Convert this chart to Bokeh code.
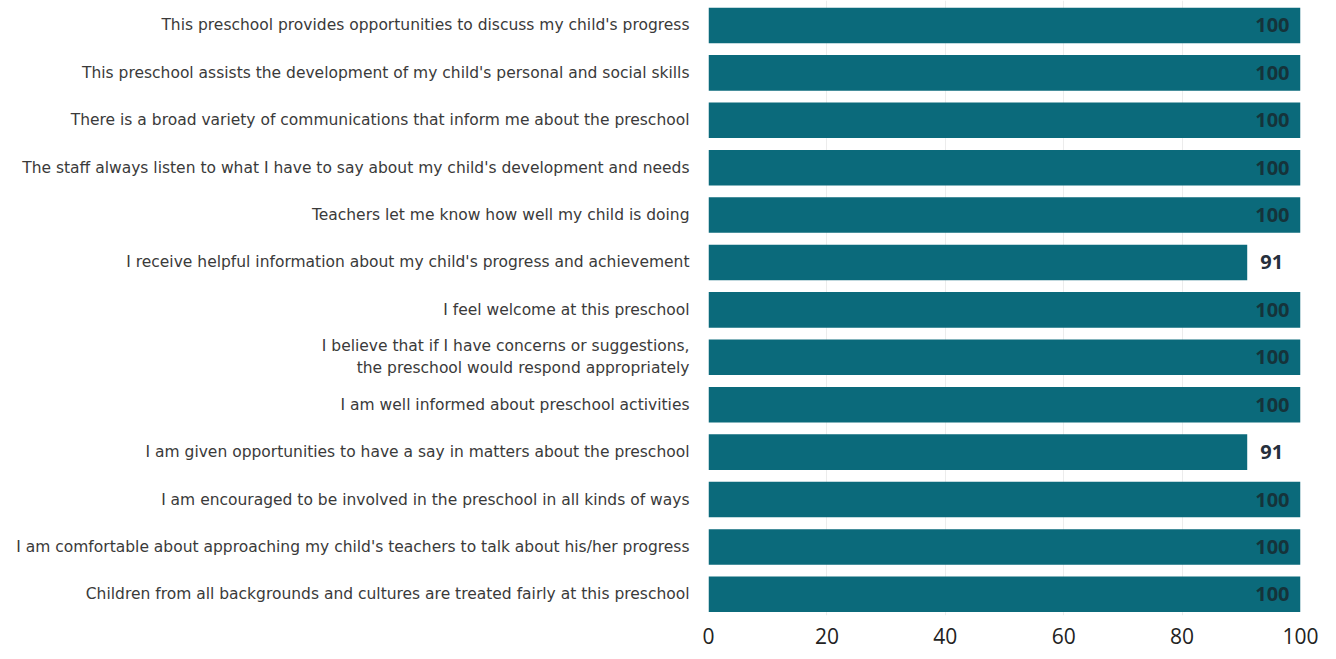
from bokeh.plotting import figure
from bokeh.models import ColumnDataSource, Range1d, FixedTicker
from bokeh.embed import file_html
from bokeh.resources import INLINE
from bokeh.core.properties import value

statements = [
    "This preschool provides opportunities to discuss my child's progress",
    "This preschool assists the development of my child's personal and social skills",
    "There is a broad variety of communications that inform me about the preschool",
    "The staff always listen to what I have to say about my child's development and needs",
    "Teachers let me know how well my child is doing",
    "I receive helpful information about my child's progress and achievement",
    "I feel welcome at this preschool",
    "I believe that if I have concerns or suggestions,\nthe preschool would respond appropriately",
    "I am well informed about preschool activities",
    "I am given opportunities to have a say in matters about the preschool",
    "I am encouraged to be involved in the preschool in all kinds of ways",
    "I am comfortable about approaching my child's teachers to talk about his/her progress",
    "Children from all backgrounds and cultures are treated fairly at this preschool",
]
percent = [100, 100, 100, 100, 100, 91, 100, 100, 100, 91, 100, 100, 100]
x_ticks = [0, 20, 40, 60, 80, 100]

pos = list(range(len(statements)))
inside = [v >= 95 for v in percent]
src_in = ColumnDataSource(dict(
    y=[p for p, f in zip(pos, inside) if f],
    x=[v for v, f in zip(percent, inside) if f],
    t=[str(v) for v, f in zip(percent, inside) if f]))
src_out = ColumnDataSource(dict(
    y=[p for p, f in zip(pos, inside) if not f],
    x=[v for v, f in zip(percent, inside) if not f],
    t=[str(v) for v, f in zip(percent, inside) if not f]))

p = figure(width=1328, height=651, output_backend="svg", toolbar_location=None,
           x_range=Range1d(0, 100), y_range=Range1d(12.447, -0.527),
           min_border_left=708, min_border_right=28, min_border_top=0, min_border_bottom=36)
p.outline_line_color = None
p.background_fill_color = "white"

p.hbar(y=pos, right=percent, left=0, height=0.75, fill_color="#0b6a7b", line_color=None)

p.text(x="x", y="y", text="t", source=src_in, x_offset=-11, text_align="right",
       text_baseline="middle", text_font=value("Open Sans"), text_font_size="20px",
       text_font_style="bold", text_color="#15333a")
p.text(x="x", y="y", text="t", source=src_out, x_offset=13, text_align="left",
       text_baseline="middle", text_font=value("Open Sans"), text_font_size="20px",
       text_font_style="bold", text_color="#26303d")

p.xgrid.ticker = FixedTicker(ticks=[20, 40, 60, 80])
p.xgrid.grid_line_color = "#ececec"
p.ygrid.grid_line_color = None

p.xaxis.ticker = FixedTicker(ticks=x_ticks)
p.xaxis.axis_line_color = None
p.xaxis.major_tick_line_color = None
p.xaxis.minor_tick_line_color = None
p.xaxis.major_label_text_font = "Open Sans"
p.xaxis.major_label_text_font_size = "21px"
p.xaxis.major_label_text_color = "#222222"
p.xaxis.major_label_standoff = 6

p.yaxis.ticker = FixedTicker(ticks=pos)
p.yaxis.major_label_overrides = {i: s for i, s in zip(pos, statements)}
p.yaxis.axis_line_color = None
p.yaxis.major_tick_line_color = None
p.yaxis.minor_tick_line_color = None
p.yaxis.major_label_text_font = "DejaVu Sans"
p.yaxis.major_label_text_font_size = "15.5px"
p.yaxis.major_label_text_color = "#3a3a3a"
p.yaxis.major_label_standoff = 13

open("out.html", "w").write(file_html(p, INLINE))
